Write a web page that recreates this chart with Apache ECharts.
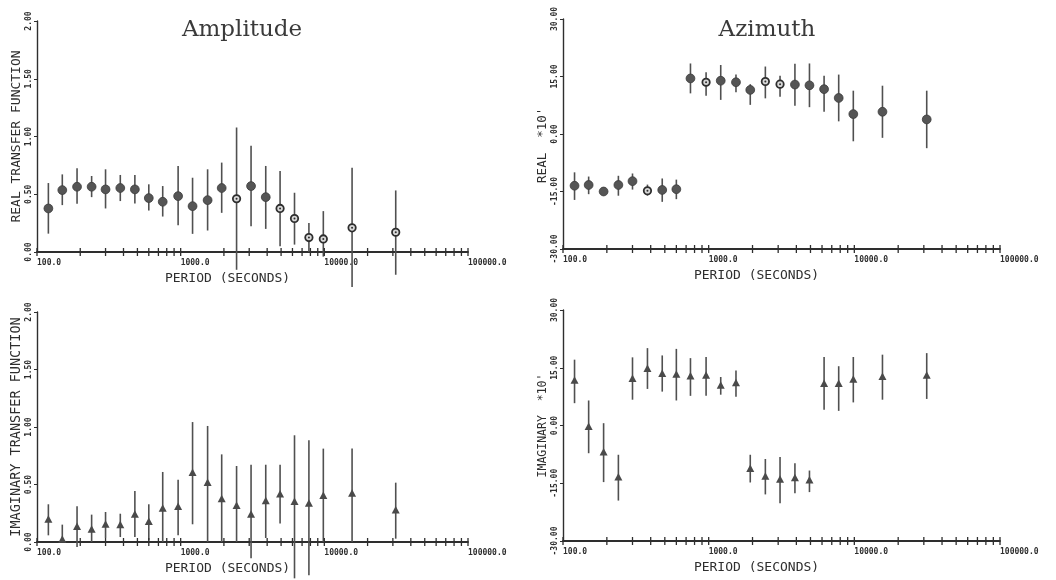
<!DOCTYPE html>
<html>
<head>
<meta charset="utf-8">
<script src="https://cdn.jsdelivr.net/npm/echarts@6/dist/echarts.min.js"></script>
<style>
html,body{margin:0;padding:0;background:#fff;}
#chart{width:1056px;height:580px;}
</style>
</head>
<body>
<div id="chart"></div>
<script>
// ---- data ----
const periods = [120,150,190,240,300,380,480,600,750,960,1210,1540,1930,2450,3090,3910,4920,6200,7810,9840,15600,31400];
const xTickValues = [100,200,300,400,500,600,700,800,900,
  1000,2000,3000,4000,5000,6000,7000,8000,9000,
  10000,20000,30000,40000,50000,60000,70000,80000,90000,100000];

// Amplitude - real transfer function
const ampReal   = [.377,.536,.565,.565,.542,.554,.542,.467,.435,.484,.397,.449,.554,.461,.571,.475,.377,.29,.125,.113,.209,.171];
const ampRealHi = [.597,.672,.725,.658,.716,.667,.667,.586,.571,.745,.643,.716,.774,1.078,.919,.745,.701,.513,.252,.354,.730,.533];
const ampRealLo = [.159,.406,.417,.475,.377,.441,.420,.359,.307,.232,.157,.186,.339,-.154,.223,.2,.049,.064,0,-.04,-.304,-.197];
const ampRealOpen = [0,0,0,0,0,0,0,0,0,0,0,0,0,1,0,0,1,1,1,1,1,1];

// Azimuth - real *10'
const aziReal   = [-13.5,-13.3,-15.0,-13.3,-12.3,-14.8,-14.6,-14.4,14.5,13.5,13.9,13.5,11.5,13.7,13.0,12.9,12.7,11.7,9.4,5.2,5.8,3.8];
const aziRealHi = [-10,-11.1,-14.2,-10.9,-10.3,-13.2,-11.6,-11.9,18.4,16.1,18.0,15.5,13.0,17.6,15.2,18.3,18.4,15.2,15.5,11.3,12.6,11.3];
const aziRealLo = [-17.2,-15.7,-15.9,-16.1,-14.5,-16.1,-17.7,-17.0,10.6,10.0,8.9,10.9,7.6,9.3,9.7,7.4,7.0,5.8,3.3,-1.9,-1.0,-3.7];
const aziRealOpen = [0,0,0,0,0,1,0,0,0,1,0,0,0,1,1,0,0,0,0,0,0,0];

// Amplitude - imaginary transfer function
const ampImag   = [.194,.02,.130,.107,.151,.145,.238,.174,.29,.304,.6,.513,.371,.313,.238,.354,.412,.348,.333,.4,.42,.275];
const ampImagHi = [.328,.151,.310,.238,.261,.246,.443,.328,.609,.542,1.043,1.009,.762,.661,.672,.672,.672,.928,.884,.812,.812,.516];
const ampImagLo = [.058,0,-.043,0,.035,.043,.043,.014,0,.058,.154,0,0,0,-.142,.035,.16,-.316,-.29,0,0,.029];

// Azimuth - imaginary *10'
const aziImag   = [11.6,-0.4,-7.0,-13.5,12.1,14.7,13.4,13.2,12.7,12.9,10.3,11.0,-11.3,-13.3,-14.1,-13.7,-14.3,10.8,10.8,11.9,12.6,12.9];
const aziImagHi = [17.1,6.5,0.6,-7.6,17.7,20.1,18.2,19.9,17.5,17.8,12.6,14.3,-7.6,-8.7,-8.2,-9.8,-11.7,17.8,15.4,17.8,18.4,18.8];
const aziImagLo = [5.8,-7.2,-14.7,-19.5,6.7,9.5,8.8,6.5,7.7,7.7,8.0,7.5,-14.8,-17.9,-20.2,-17.6,-17.3,4.1,3.8,6.0,6.7,6.9];

const titles = ['Amplitude','Azimuth'];
const xName = 'PERIOD (SECONDS)';
const yNames = ['REAL TRANSFER FUNCTION',"REAL  *10'   ",'IMAGINARY TRANSFER FUNCTION',"IMAGINARY  *10'"];

// ---- chart ----
const INK = '#2e2e2e';
const MARK = '#4a4a4a';
const mono = '"DejaVu Sans Mono", "Liberation Mono", monospace';

const grids = [
  {left:37, top:21, width:431, height:231},
  {left:563, top:19, width:437, height:230},
  {left:37, top:312, width:431, height:230},
  {left:563, top:310, width:437, height:231}
];
const yRanges = [[0,2,0.5],[-30,30,15],[0,2,0.5],[-30,30,15]];
const yNameSizes = [13, 12.5, 13.5, 11.5];

const xAxes = grids.map((g,i)=>({
  type:'log', logBase:10, gridIndex:i, min:100, max:100000, position:'bottom',
  name:xName, nameLocation:'middle', nameGap:20,
  nameTextStyle:{fontFamily:mono, fontSize:13, color:INK, padding:[0,50,0,0]},
  axisLine:{show:true, onZero:false, lineStyle:{color:INK, width:1.8}},
  axisTick:{show:false}, splitLine:{show:false}, minorTick:{show:false},
  axisLabel:{formatter:v=>Number(v).toFixed(1), align:'left', margin:7,
    fontFamily:mono, fontSize:8, fontWeight:'bold', color:INK}
}));
const yAxes = grids.map((g,i)=>({
  type:'value', gridIndex:i, min:yRanges[i][0], max:yRanges[i][1], interval:yRanges[i][2],
  name:yNames[i], nameLocation:'middle', nameRotate:90, nameGap:14,
  nameTextStyle:{fontFamily:mono, fontSize:yNameSizes[i], color:INK},
  axisLine:{show:true, onZero:false, lineStyle:{color:INK, width:1.4}},
  axisTick:{show:true, length:3, lineStyle:{color:INK}},
  splitLine:{show:false},
  axisLabel:{rotate:90, margin:4, formatter:v=>Number(v).toFixed(2),
    fontFamily:mono, fontSize:8, fontWeight:'bold', color:INK, showMinLabel:true, showMaxLabel:true}
}));

function tickSeries(i){
  return {
    type:'custom', xAxisIndex:i, yAxisIndex:i, silent:true, clip:false, z:6,
    data: xTickValues.map(v=>[v, yRanges[i][0]]),
    renderItem:(p,api)=>{
      const c = api.coord([api.value(0), api.value(1)]);
      return {type:'line', shape:{x1:c[0], y1:c[1]-4, x2:c[0], y2:c[1]+4},
        style:{stroke:INK, lineWidth:1.3}};
    }
  };
}
function errSeries(i, lo, hi){
  return {
    type:'custom', xAxisIndex:i, yAxisIndex:i, silent:true, clip:false,
    data: periods.map((x,k)=>[x, lo[k], hi[k]]),
    renderItem:(p,api)=>{
      const a = api.coord([api.value(0), api.value(1)]);
      const b = api.coord([api.value(0), api.value(2)]);
      return {type:'line', shape:{x1:a[0], y1:a[1], x2:b[0], y2:b[1]},
        style:{stroke:'#505050', lineWidth:1.6}};
    }
  };
}
function circleSeries(i, vals, open){
  return {
    type:'custom', xAxisIndex:i, yAxisIndex:i, silent:true, clip:false, z:5,
    data: periods.map((x,k)=>[x, vals[k], open[k]]),
    renderItem:(p,api)=>{
      const c = api.coord([api.value(0), api.value(1)]);
      if (api.value(2)) {
        return {type:'group', children:[
          {type:'circle', shape:{cx:c[0], cy:c[1], r:3.7}, style:{fill:'#d8d8d8', stroke:'#2e2e2e', lineWidth:1.8}},
          {type:'circle', shape:{cx:c[0], cy:c[1], r:1}, style:{fill:'#2e2e2e'}}
        ]};
      }
      return {type:'circle', shape:{cx:c[0], cy:c[1], r:4.4}, style:{fill:'#555', stroke:'#3a3a3a', lineWidth:0.8}};
    }
  };
}
function triSeries(i, vals){
  return {
    type:'custom', xAxisIndex:i, yAxisIndex:i, silent:true, clip:false, z:5,
    data: periods.map((x,k)=>[x, vals[k]]),
    renderItem:(p,api)=>{
      const c = api.coord([api.value(0), api.value(1)]);
      return {type:'polygon', shape:{points:[[c[0], c[1]-4.5],[c[0]-4, c[1]+3],[c[0]+4, c[1]+3]]},
        style:{fill:MARK}};
    }
  };
}

const option = {
  animation:false,
  backgroundColor:'#fff',
  grid: grids,
  xAxis: xAxes,
  yAxis: yAxes,
  graphic: [
    {type:'text', x:242, y:19, style:{text:titles[0], fill:'#3a3a3a', font:'23px "DejaVu Serif", serif', align:'center'}},
    {type:'text', x:767, y:19, style:{text:titles[1], fill:'#3a3a3a', font:'23px "DejaVu Serif", serif', align:'center'}}
  ],
  series: [
    tickSeries(0), tickSeries(1), tickSeries(2), tickSeries(3),
    errSeries(0, ampRealLo, ampRealHi),
    errSeries(1, aziRealLo, aziRealHi),
    errSeries(2, ampImagLo, ampImagHi),
    errSeries(3, aziImagLo, aziImagHi),
    circleSeries(0, ampReal, ampRealOpen),
    circleSeries(1, aziReal, aziRealOpen),
    triSeries(2, ampImag),
    triSeries(3, aziImag)
  ]
};
const chart = echarts.init(document.getElementById('chart'), null, {renderer:'canvas'});
chart.setOption(option);
</script>
</body>
</html>
